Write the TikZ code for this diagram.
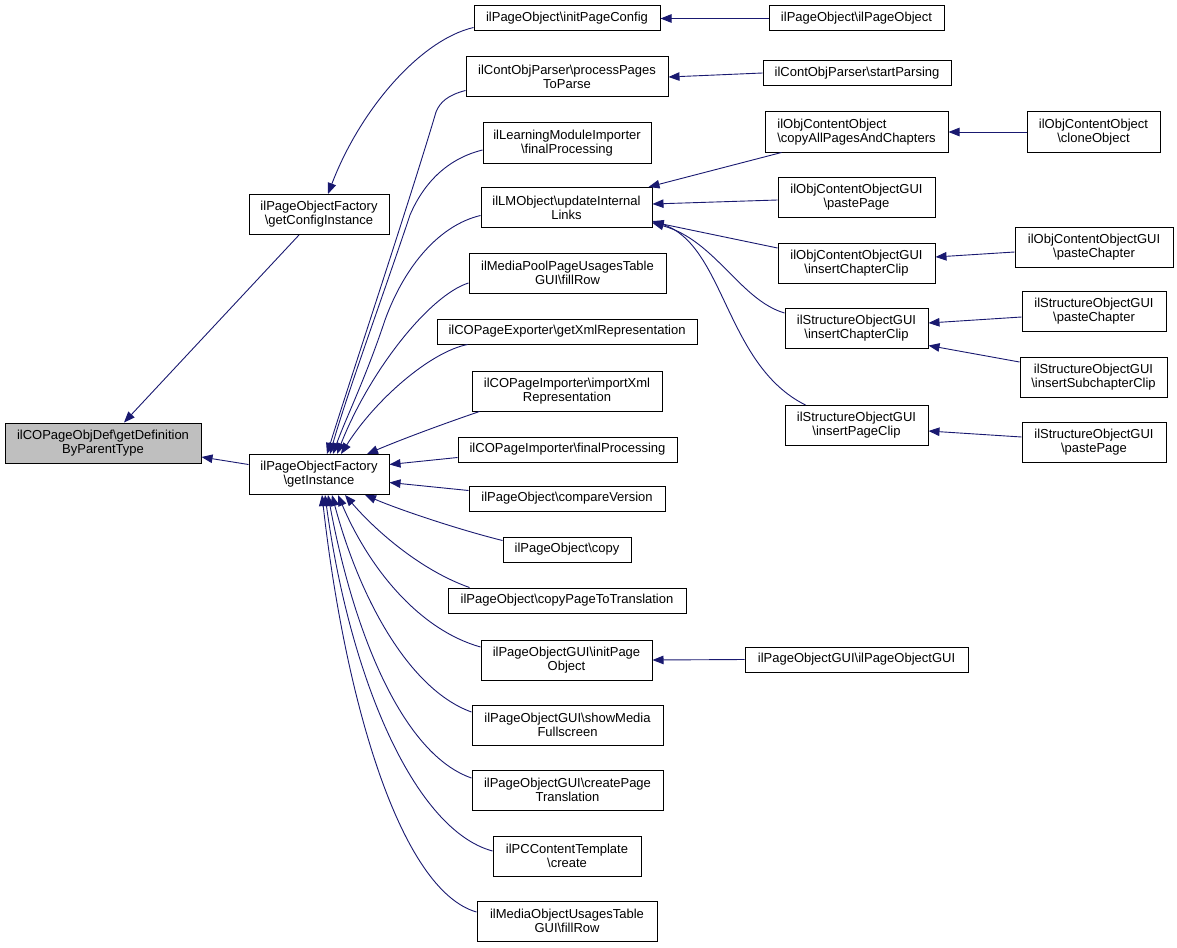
\documentclass[tikz,border=0pt]{standalone}
\usepackage{fontspec}
\setmainfont{Liberation Sans}
\usetikzlibrary{arrows.meta}
\definecolor{edgeblue}{HTML}{191970}
\definecolor{grayfill}{HTML}{BFBFBF}
\tikzset{
  fn/.style={draw=black, line width=1pt, inner sep=0pt, align=center, fill=white,
    font=\fontsize{13}{14}\selectfont},
  fnl/.style={fn, align=left},
  cur/.style={fn, fill=grayfill},
  arr/.style={draw=edgeblue, line width=0.9pt, -{Triangle[length=11pt,width=8.5pt]}},
}
\begin{document}
\begin{tikzpicture}[x=1pt,y=-1pt]
\useasboundingbox (0,0) rectangle (1177,947);
% nodes
\node[cur, minimum width=196, minimum height=40] (gray) at (103,443) {ilCOPageObjDef\textbackslash getDefinition\\ByParentType};
\node[fn, minimum width=140, minimum height=40] (gcf) at (319,214.5) {ilPageObjectFactory\\\textbackslash getConfigInstance};
\node[fn, minimum width=140, minimum height=40] (gi) at (319,474.5) {ilPageObjectFactory\\\textbackslash getInstance};
\node[fn, minimum width=186, minimum height=25] (ipc) at (567,18.5) {ilPageObject\textbackslash initPageConfig};
\node[fn, minimum width=175, minimum height=25] (ipo) at (856.5,18.5) {ilPageObject\textbackslash ilPageObject};
\node[fn, minimum width=202, minimum height=40] (ppp) at (567,77) {ilContObjParser\textbackslash processPages\\ToParse};
\node[fn, minimum width=188, minimum height=25] (sp) at (857,73) {ilContObjParser\textbackslash startParsing};
\node[fn, minimum width=168, minimum height=40] (lmi) at (567,143) {ilLearningModuleImporter\\\textbackslash finalProcessing};
\node[fn, minimum width=171, minimum height=40] (uil) at (566.5,207.5) {ilLMObject\textbackslash updateInternal\\Links};
\node[fnl, minimum width=183, minimum height=40] (cap) at (856.5,132) {ilObjContentObject\\\textbackslash copyAllPagesAndChapters};
\node[fn, minimum width=133, minimum height=40] (clo) at (1093.5,132) {ilObjContentObject\\\textbackslash cloneObject};
\node[fn, minimum width=157, minimum height=40] (ocpp) at (856.5,197) {ilObjContentObjectGUI\\\textbackslash pastePage};
\node[fn, minimum width=157, minimum height=40] (ocicc) at (856.5,263) {ilObjContentObjectGUI\\\textbackslash insertChapterClip};
\node[fn, minimum width=158, minimum height=40] (ocpc) at (1094,247) {ilObjContentObjectGUI\\\textbackslash pasteChapter};
\node[fn, minimum width=143, minimum height=40] (soicc) at (856.5,328) {ilStructureObjectGUI\\\textbackslash insertChapterClip};
\node[fn, minimum width=144, minimum height=40] (sopc) at (1094,311) {ilStructureObjectGUI\\\textbackslash pasteChapter};
\node[fn, minimum width=147, minimum height=40] (soisc) at (1093.5,377) {ilStructureObjectGUI\\\textbackslash insertSubchapterClip};
\node[fn, minimum width=143, minimum height=40] (soipc) at (856.5,425.5) {ilStructureObjectGUI\\\textbackslash insertPageClip};
\node[fn, minimum width=144, minimum height=40] (sopp) at (1094,442) {ilStructureObjectGUI\\\textbackslash pastePage};
\node[fn, minimum width=197, minimum height=40] (mpf) at (567.5,273) {ilMediaPoolPageUsagesTable\\GUI\textbackslash fillRow};
\node[fn, minimum width=260, minimum height=25] (cpe) at (567,331.5) {ilCOPageExporter\textbackslash getXmlRepresentation};
\node[fn, minimum width=190, minimum height=40] (imx) at (567,391) {ilCOPageImporter\textbackslash importXml\\Representation};
\node[fn, minimum width=219, minimum height=25] (cfp) at (567.5,449.5) {ilCOPageImporter\textbackslash finalProcessing};
\node[fn, minimum width=196, minimum height=25] (cv) at (567,498.5) {ilPageObject\textbackslash compareVersion};
\node[fn, minimum width=128, minimum height=25] (cp) at (567,549.5) {ilPageObject\textbackslash copy};
\node[fn, minimum width=238, minimum height=25] (cpt) at (567,600.5) {ilPageObject\textbackslash copyPageToTranslation};
\node[fn, minimum width=171, minimum height=40] (ipob) at (566.5,660) {ilPageObjectGUI\textbackslash initPage\\Object};
\node[fn, minimum width=223, minimum height=25] (pog) at (856.5,659.5) {ilPageObjectGUI\textbackslash ilPageObjectGUI};
\node[fn, minimum width=191, minimum height=40] (smf) at (567.5,725) {ilPageObjectGUI\textbackslash showMedia\\Fullscreen};
\node[fn, minimum width=191, minimum height=40] (cpt2) at (567.5,790) {ilPageObjectGUI\textbackslash createPage\\Translation};
\node[fn, minimum width=148, minimum height=40] (pct) at (567,856) {ilPCContentTemplate\\\textbackslash create};
\node[fn, minimum width=180, minimum height=40] (mou) at (567,921) {ilMediaObjectUsagesTable\\GUI\textbackslash fillRow};
% edges into the current function
\draw[arr] ([shift={(-20,0)}]gcf.south) -- ([shift={(21,0)}]gray.north);
\draw[arr] ([shift={(0,-10)}]gi.west) -- ([shift={(0,14)}]gray.east);
\draw[arr] ([shift={(0,-4)}]ipc.south west) .. controls (420,40) and (360,110) .. ([shift={(9,0)}]gcf.north);
\draw[arr] (ipo.west) -- (ipc.east);
\draw[arr] (sp.west) -- (ppp.east);
% edges into getInstance from above
\draw[arr] ([shift={(0,-7)}]ppp.south west) .. controls (448,95) and (440,102) .. (436,112) .. controls (410,200) and (350,380) .. ([shift={(8,0)}]gi.north);
\draw[arr] ([shift={(0,7)}]lmi.west) .. controls (450,158) and (425,180) .. (410,215) .. controls (385,290) and (345,400) .. ([shift={(11,0)}]gi.north);
\draw[arr] ([shift={(0,8)}]uil.west) .. controls (440,225) and (405,265) .. (385,320) .. controls (365,380) and (345,420) .. ([shift={(14,0)}]gi.north);
\draw[arr] ([shift={(0,10)}]mpf.west) .. controls (430,295) and (370,370) .. ([shift={(18,0)}]gi.north);
\draw[arr] ([shift={(31,0)}]cpe.south west) .. controls (430,352) and (375,400) .. ([shift={(22,0)}]gi.north);
\draw[arr] ([shift={(8,0)}]imx.south west) .. controls (440,425) and (400,440) .. ([shift={(48,0)}]gi.north);
\draw[arr] ([shift={(0,8)}]cfp.west) -- ([shift={(0,-10)}]gi.east);
\draw[arr] ([shift={(0,-8)}]cv.west) -- ([shift={(0,8)}]gi.east);
% edges into getInstance from below
\draw[arr] ([shift={(0,-9)}]cp.west) .. controls (460,530) and (400,510) .. ([shift={(46,0)}]gi.south);
\draw[arr] ([shift={(22,0)}]cpt.north west) .. controls (420,570) and (375,530) .. ([shift={(26,0)}]gi.south);
\draw[arr] ([shift={(0,-13)}]ipob.west) .. controls (420,630) and (370,570) .. ([shift={(19,0)}]gi.south);
\draw[arr] ([shift={(0,-13)}]smf.west) .. controls (410,690) and (360,600) .. ([shift={(13,0)}]gi.south);
\draw[arr] ([shift={(0,-12)}]cpt2.west) .. controls (405,755) and (355,640) .. ([shift={(9,0)}]gi.south);
\draw[arr] ([shift={(0,-5)}]pct.west) .. controls (415,830) and (350,680) .. ([shift={(6,0)}]gi.south);
\draw[arr] ([shift={(0,-9)}]mou.west) .. controls (400,890) and (345,700) .. ([shift={(3,0)}]gi.south);
% right side
\draw[arr] (clo.west) -- (cap.east);
\draw[arr] ([shift={(17,0)}]cap.south west) -- ([shift={(-4,0)}]uil.north east);
\draw[arr] ([shift={(0,3)}]ocpp.west) -- ([shift={(0,-3.5)}]uil.east);
\draw[arr] ([shift={(0,-15)}]ocicc.west) -- ([shift={(0,-6)}]uil.south east);
\draw[arr] ([shift={(0,-15)}]soicc.west) .. controls (740,300) and (715,240) .. ([shift={(0,-5)}]uil.south east);
\draw[arr] ([shift={(21,0)}]soipc.north west) .. controls (725,365) and (725,245) .. ([shift={(0,-7)}]uil.south east);
\draw[arr] ([shift={(0,5)}]ocpc.west) -- ([shift={(0,-6)}]ocicc.east);
\draw[arr] ([shift={(0,6)}]sopc.west) -- ([shift={(0,-5)}]soicc.east);
\draw[arr] ([shift={(0,-15)}]soisc.west) -- ([shift={(0,-3)}]soicc.south east);
\draw[arr] ([shift={(0,-5)}]sopp.west) -- ([shift={(0,5.5)}]soipc.east);
\draw[arr] (pog.west) -- (ipob.east);
\end{tikzpicture}
\end{document}
